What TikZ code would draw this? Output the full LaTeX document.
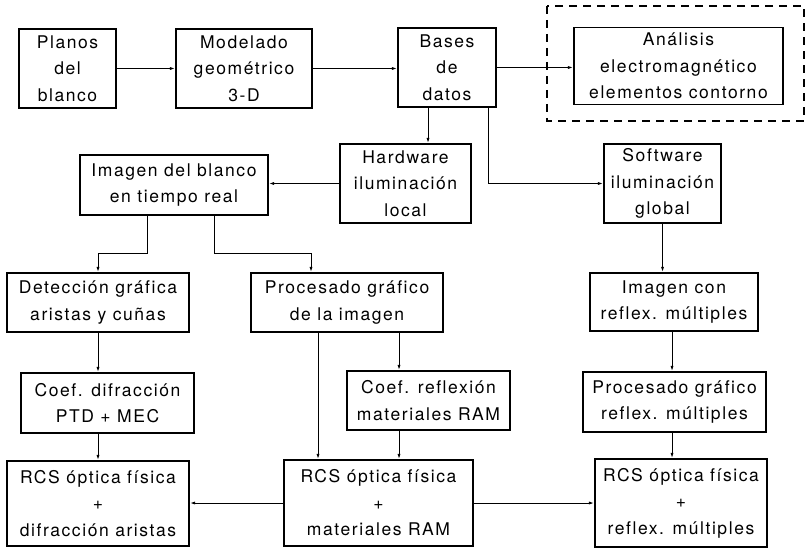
\documentclass[tikz,border=0pt]{standalone}
\usepackage{fontspec}
\setmainfont{TeX Gyre Heros}[LetterSpace=9,Ligatures=NoCommon]
\usetikzlibrary{arrows.meta}

\tikzset{
  bloque/.style={draw, line width=1.1pt, align=center, inner sep=0pt,
    font=\fontsize{17.5}{26.5}\selectfont},
  flecha/.style={->, >={Latex[length=5.5pt,width=3pt]}, line width=1pt},
}

\begin{document}
\begin{tikzpicture}[x=1pt,y=-1pt]
  \useasboundingbox (0,0) rectangle (806,548);

  %Fila superior
  \node[bloque, minimum width=97pt, minimum height=79pt] (planos) at (67.5,68.5) {Planos\\del\\blanco};
  \node[bloque, minimum width=136pt, minimum height=79pt] (modelado) at (244,68.5) {Modelado\\geométrico\\3-D};
  \node[bloque, minimum width=98pt, minimum height=79pt] (bases) at (447,67.5) {Bases\\de\\datos};
  \node[bloque, minimum width=209pt, minimum height=77pt] (analisis) at (678.5,66) {Análisis\\electromagnético\\elementos contorno};
  \draw[line width=1.1pt, dash pattern=on 8pt off 6pt] (547,6) rectangle (804,121);

  %Iluminacion
  \node[bloque, minimum width=131pt, minimum height=79pt] (hardware) at (405.5,183.5) {Hardware\\iluminación\\local};
  \node[bloque, minimum width=117pt, minimum height=79pt] (software) at (662.5,183.5) {Software\\iluminación\\global};
  \node[bloque, minimum width=188pt, minimum height=60pt] (tiempo) at (174,185) {Imagen del blanco\\en tiempo real};

  %Procesado
  \node[bloque, minimum width=182pt, minimum height=59pt] (deteccion) at (98,302.5) {Detección gráfica\\aristas y cuñas};
  \node[bloque, minimum width=192pt, minimum height=59pt] (procesado) at (347,302.5) {Procesado gráfico\\de la imagen};
  \node[bloque, minimum width=168pt, minimum height=58pt] (multiples) at (674,302) {Imagen con\\reflex. múltiples};
  \node[bloque, minimum width=173pt, minimum height=60pt] (difraccion) at (107.5,403) {Coef. difracción\\PTD + MEC};
  \node[bloque, minimum width=163pt, minimum height=59pt] (reflexion) at (428.5,400.5) {Coef. reflexión\\materiales RAM};
  \node[bloque, minimum width=183pt, minimum height=60pt] (procmult) at (674.5,402) {Procesado gráfico\\reflex. múltiples};

  %RCS
  \node[bloque, minimum width=182pt, minimum height=85pt] (rcsaristas) at (98,503.5) {RCS óptica física\\+\\difracción aristas};
  \node[bloque, minimum width=189pt, minimum height=86pt] (rcsram) at (378.5,503) {RCS óptica física\\+\\materiales RAM};
  \node[bloque, minimum width=172pt, minimum height=88pt] (rcsmult) at (681,503) {RCS óptica física\\+\\reflex. múltiples};

  %Flechas
  \draw[flecha] (planos.east) -- (planos.east -| modelado.west);
  \draw[flecha] (modelado.east) -- (modelado.east -| bases.west);
  \draw[flecha] (bases.east) -- (bases.east -| analisis.west);
  \draw[flecha] ([xshift=-19pt]bases.south) -- ([xshift=-19pt]bases.south |- hardware.north);
  \draw[flecha] ([xshift=41pt]bases.south) |- (software.west);
  \draw[flecha] (hardware.west) -- (hardware.west -| tiempo.east);
  \draw[flecha] ([xshift=-27pt]tiempo.south) -- ++(0,38) -| (deteccion.north);
  \draw[flecha] ([xshift=40pt]tiempo.south) -- ++(0,38) -| ([xshift=-36pt]procesado.north);
  \draw[flecha] (deteccion.south) -- (deteccion.south |- difraccion.north);
  \draw[flecha] (rcsaristas.north |- difraccion.south) -- (rcsaristas.north);
  \draw[flecha] ([xshift=-29pt]procesado.south) -- ([xshift=-29pt]procesado.south |- rcsram.north);
  \draw[flecha] ([xshift=52pt]procesado.south) -- ([xshift=52pt]procesado.south |- reflexion.north);
  \draw[flecha] ([xshift=-29.5pt]reflexion.south) -- ([xshift=-29.5pt]reflexion.south |- rcsram.north);
  \draw[flecha] (software.south) -- (software.south |- multiples.north);
  \draw[flecha] ([xshift=-2pt]multiples.south) -- ([xshift=-2pt]multiples.south |- procmult.north);
  \draw[flecha] ([xshift=-2.5pt]procmult.south) -- ([xshift=-2.5pt]procmult.south |- rcsmult.north);
  \draw[flecha] (rcsram.west) -- (rcsram.west -| rcsaristas.east);
  \draw[flecha] (rcsram.east) -- (rcsram.east -| rcsmult.west);
\end{tikzpicture}
\end{document}
